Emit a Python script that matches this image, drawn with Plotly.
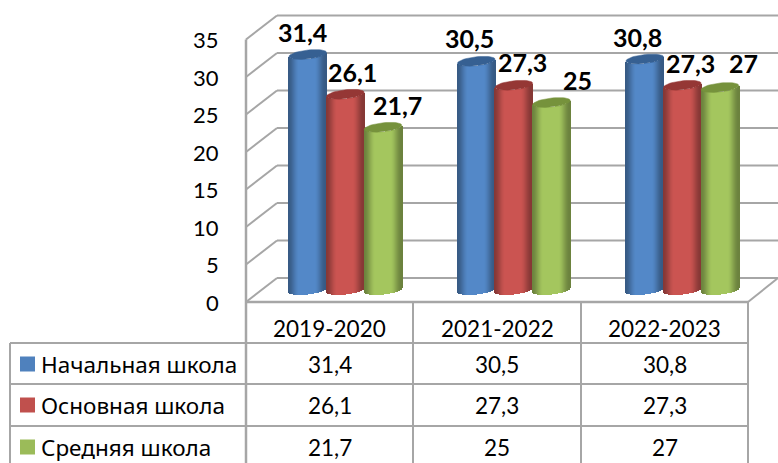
import numpy as np
import plotly.graph_objects as go

# ---- data ----
years = ["2019-2020", "2021-2022", "2022-2023"]
series_names = ["Начальная школа", "Основная школа", "Средняя школа"]
primary = [31.4, 30.5, 30.8]
basic = [26.1, 27.3, 27.3]
secondary = [21.7, 25, 27]
y_ticks = [0, 5, 10, 15, 20, 25, 30, 35]

# ---- style ----
W, H = 778, 463
FONT = "Lato, 'Noto Sans', sans-serif"
LABEL_FONT = "'Noto Sans', sans-serif"
GRID = "#a6a6a6"
base_rgb = [(79, 129, 189), (192, 80, 77), (155, 187, 89)]
legend_cols = ["#4F81BD", "#C0504D", "#9BBB59"]
top_cols = ["#366092", "#953735", "#76923C"]
PX_PER_UNIT = 7.5
Y0_PX = 290
DEPTH = 1.6  # value offset between front and back of the floor


def vy(p):
    return (Y0_PX - p) / PX_PER_UNIT


def fmt(v):
    return f"{v:g}".replace(".", ",")


group_left = [289, 457.5, 626]
cyl_w = 37.6
slices = np.arange(0.5, cyl_w, 1.0)
all_values = [primary, basic, secondary]


def shade(t, rgb):
    edge = np.minimum(t, 1 - t) / 0.3
    edge = np.clip(edge, 0, 1)
    edge = edge * edge * (3 - 2 * edge)
    k = 0.7 + 0.36 * edge
    return "rgb(%d,%d,%d)" % tuple(min(255, int(c * k)) for c in rgb)


fig = go.Figure()

for s, vals in enumerate(all_values):
    xs, ys, bases, cols = [], [], [], []
    ex, ey = [], []
    for g, v in enumerate(vals):
        left = group_left[g] + s * cyl_w
        for d in slices:
            t = d / cyl_w
            u = 2 * t - 1
            low = (2.0 * u - 4.5 * np.sqrt(max(1 - u * u, 0))) / PX_PER_UNIT
            xs.append(left + d)
            ys.append(v)
            bases.append(low)
            cols.append(shade(t, base_rgb[s]))
        th = np.linspace(0, 2 * np.pi, 50)
        ex += list(left + cyl_w / 2 + cyl_w / 2 * np.cos(th)) + [None]
        ey += list(v + (2.0 * np.cos(th) + 4.5 * np.sin(th)) / PX_PER_UNIT) + [None]
    fig.add_trace(go.Bar(x=xs, y=ys, base=bases, width=1.25,
                         marker=dict(color=cols, line=dict(width=0)),
                         hoverinfo="skip", showlegend=False))
    fig.add_trace(go.Scatter(x=ex, y=ey, mode="lines", fill="toself",
                             fillcolor=top_cols[s],
                             line=dict(color=top_cols[s], width=0.5),
                             hoverinfo="skip", showlegend=False))

shapes = []


def line(x0, p0, x1, p1, w=2):
    shapes.append(dict(type="line", xref="x", yref="y", x0=x0, x1=x1,
                       y0=vy(p0), y1=vy(p1), layer="below",
                       line=dict(color=GRID, width=w)))


FX, BX = 246, 277
front = lambda t: Y0_PX + DEPTH * PX_PER_UNIT - t * PX_PER_UNIT
back = lambda t: Y0_PX - DEPTH * PX_PER_UNIT - t * PX_PER_UNIT
for t in y_ticks:
    line(FX, front(t), BX, back(t))
    line(BX, back(t), W, back(t))
line(748, front(0), W, back(0))
line(FX, front(0), 748, front(0), 2.5)

# table
col_x = [246, 413, 581, 748]
for i, x in enumerate(col_x):
    line(x, front(35) if i == 0 else front(0), x, H, 2.5 if i == 0 else 2)
row_y = [343, 384, 426]
for r, p in enumerate(row_y):
    line(10, p, 748, p, 2)
line(10, 343, 10, H, 2)

ann = []


def text(x, p, s, size, anchor="center", bold=False, family=FONT):
    ann.append(dict(x=x, y=vy(p), xref="x", yref="y", text=f"<b>{s}</b>" if bold else s,
                    showarrow=False, xanchor=anchor, yanchor="middle",
                    font=dict(family=family, size=size, color="#000000")))


for t in y_ticks:
    text(221, front(t), str(t), 22, "right")

for i, y in enumerate(years):
    text((col_x[i] + col_x[i + 1]) / 2, 328, y, 22.5)

row_mid = [364, 405, 447]
for s, vals in enumerate(all_values):
    text(39, row_mid[s], series_names[s], 22.5, "left", family=LABEL_FONT)
    for i, v in enumerate(vals):
        text((col_x[i] + col_x[i + 1]) / 2, row_mid[s], fmt(v), 22.5)
    shapes.append(dict(type="rect", xref="x", yref="y", x0=20, x1=35,
                       y0=vy(row_mid[s] - 7.5), y1=vy(row_mid[s] + 7.5),
                       fillcolor=legend_cols[s], line=dict(width=0), layer="above"))

label_pos = [
    [(302, 32), (352, 72), (397, 105)],
    [(469, 38), (522, 62), (577, 80)],
    [(637, 37), (690, 63), (743, 63)],
]
for g in range(3):
    for s in range(3):
        px, py = label_pos[g][s]
        text(px, py, fmt(all_values[s][g]), 25, bold=True)

fig.update_layout(
    width=W, height=H, autosize=False,
    margin=dict(l=0, r=0, t=0, b=0),
    paper_bgcolor="white", plot_bgcolor="white",
    barmode="overlay", bargap=0,
    showlegend=False,
    xaxis=dict(range=[0, W], visible=False, fixedrange=True),
    yaxis=dict(range=[vy(H), vy(0)], visible=False, fixedrange=True),
    shapes=shapes, annotations=ann,
)
fig.write_html("out.html", config={"displayModeBar": False},
               post_script="document.body.style.margin='0';document.body.style.overflow='hidden';")
